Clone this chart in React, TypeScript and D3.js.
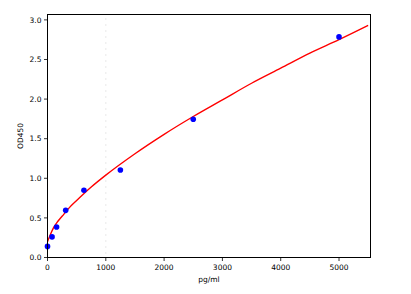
import React from "react";
import * as d3 from "d3";

const concentrations = [0, 78, 156, 312, 625, 1250, 2500, 5000];
const odValues = [0.14, 0.26, 0.385, 0.595, 0.85, 1.105, 1.745, 2.785];
const curveX = [0, 50, 100, 175, 250, 375, 500, 750, 1000, 1500, 2000, 2500, 3000, 3500, 4000, 4500, 5000, 5500];
const curveY = [0.2, 0.29, 0.37, 0.455, 0.52, 0.63, 0.72, 0.89, 1.04, 1.31, 1.555, 1.78, 1.99, 2.2, 2.39, 2.58, 2.75, 2.93];
const xTicks = [0, 1000, 2000, 3000, 4000, 5000];
const yTicks = [0, 0.5, 1.0, 1.5, 2.0, 2.5, 3.0];
const xLabel = "pg/ml";
const yLabel = "OD450";

const W = 411, H = 294;
const left = 47.5, right = 370.5, top = 14.5, bottom = 257.5;

export default function App() {
  const x = d3.scaleLinear().domain([0, 5540]).range([left, right]);
  const y = d3.scaleLinear().domain([0, 3.068]).range([bottom, top]);
  const line = d3.line<number>().x((_, i) => x(curveX[i])).y((d) => y(d)).curve(d3.curveMonotoneX);
  const font = "DejaVu Sans, sans-serif";
  const dots = d3.range(top + 4, bottom, 6);
  return (
    <svg width={W} height={H} style={{ position: "absolute", left: 0, top: 0, background: "#fff" }}>
      <rect width={W} height={H} fill="#fff" />
      <g opacity={0.35}>
        {dots.map((d, i) => (
          <rect key={i} x={x(1000) - 0.5} y={d} width={1} height={1} fill="#888" />
        ))}
      </g>
      <defs>
        <clipPath id="c">
          <rect x={left} y={top} width={right - left} height={bottom - top} />
        </clipPath>
      </defs>
      <g clipPath="url(#c)">
        <path d={line(curveY) || ""} fill="none" stroke="#ff0000" strokeWidth={1.4} />
      </g>
      {concentrations.map((c, i) => (
        <circle key={i} cx={x(c)} cy={y(odValues[i])} r={2.8} fill="#0000ff" />
      ))}
      <rect x={left} y={top} width={right - left} height={bottom - top} fill="none" stroke="#000" strokeWidth={1} />
      {xTicks.map((t) => (
        <g key={t}>
          <line x1={x(t)} x2={x(t)} y1={bottom} y2={bottom + 3.5} stroke="#000" strokeWidth={0.8} />
          <text x={x(t)} y={bottom + 12} textAnchor="middle" fontFamily={font} fontSize={7.5} fill="#000">{t}</text>
        </g>
      ))}
      {yTicks.map((t) => (
        <g key={t}>
          <line x1={left - 3.5} x2={left} y1={y(t)} y2={y(t)} stroke="#000" strokeWidth={0.8} />
          <text x={left - 6} y={y(t) + 2.7} textAnchor="end" fontFamily={font} fontSize={7.5} fill="#000">{t.toFixed(1)}</text>
        </g>
      ))}
      <text x={(left + right) / 2} y={282} textAnchor="middle" fontFamily={font} fontSize={7.5} fill="#000">{xLabel}</text>
      <text transform={`translate(${23},${(top + bottom) / 2}) rotate(-90)`} textAnchor="middle" fontFamily={font} fontSize={7.5} fill="#000">{yLabel}</text>
    </svg>
  );
}
